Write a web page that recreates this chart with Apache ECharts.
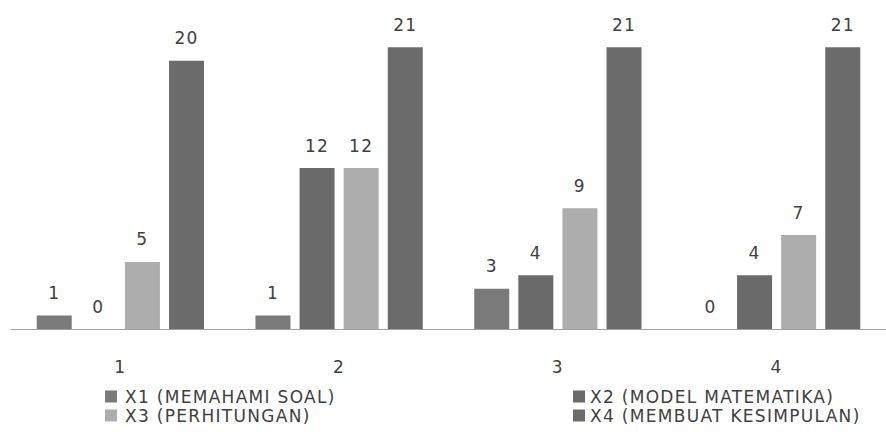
<!DOCTYPE html>
<html>
<head>
<meta charset="utf-8">
<script src="https://cdn.jsdelivr.net/npm/echarts@6/dist/echarts.min.js"></script>
<style>html,body{margin:0;padding:0;background:#fff;}#c{width:886px;height:432px;}#c text{letter-spacing:1.3px;}</style>
</head>
<body>
<div id="c"></div>
<script>
var categories = ['1', '2', '3', '4'];
var seriesNames = ['X1 (MEMAHAMI SOAL)', 'X2 (MODEL MATEMATIKA)', 'X3 (PERHITUNGAN)', 'X4 (MEMBUAT KESIMPULAN)'];
var x1 = [1, 1, 3, 0];
var x2 = [0, 12, 4, 4];
var x3 = [5, 12, 9, 7];
var x4 = [20, 21, 21, 21];
var colors = ['#7a7a7a', '#6a6a6a', '#adadad', '#6b6b6b'];

var FONT = 'DejaVu Sans';
var FS = 17;
var allData = [x1, x2, x3, x4];
var series = allData.map(function (d, i) {
  return {
    name: seriesNames[i],
    type: 'bar',
    data: d,
    barWidth: 35,
    barGap: '26%',
    itemStyle: { color: colors[i] },
    label: {
      show: true, position: 'top', distance: 14,
      color: '#404040', fontFamily: FONT, fontSize: FS
    }
  };
});

var chart = echarts.init(document.getElementById('c'), null, { renderer: 'svg' });
chart.setOption({
  animation: false,
  backgroundColor: '#fff',
  color: colors,
  grid: { left: 11, right: -11, top: 7, bottom: 103, containLabel: false },
  xAxis: {
    type: 'category', data: categories,
    axisLine: { lineStyle: { color: '#a0a0a0', width: 1 } },
    axisTick: { show: false },
    axisLabel: { color: '#404040', fontFamily: FONT, fontSize: FS, margin: 29 }
  },
  yAxis: {
    type: 'value', min: 0, max: 24,
    show: false,
    splitLine: { show: false }
  },
  legend: [
    {
      data: [seriesNames[0], seriesNames[2]],
      orient: 'vertical', left: 105, top: 388, padding: 0,
      itemWidth: 12, itemHeight: 12, itemGap: 2,
      icon: 'rect',
      textStyle: { color: '#404040', fontFamily: FONT, fontSize: FS, lineHeight: 14, padding: [0, 0, 0, 3] }
    },
    {
      data: [seriesNames[1], seriesNames[3]],
      orient: 'vertical', left: 573, top: 388, padding: 0,
      itemWidth: 12, itemHeight: 12, itemGap: 2,
      icon: 'rect',
      textStyle: { color: '#404040', fontFamily: FONT, fontSize: FS, lineHeight: 14, padding: [0, 0, 0, 0] }
    }
  ],
  series: series
});
</script>
</body>
</html>
